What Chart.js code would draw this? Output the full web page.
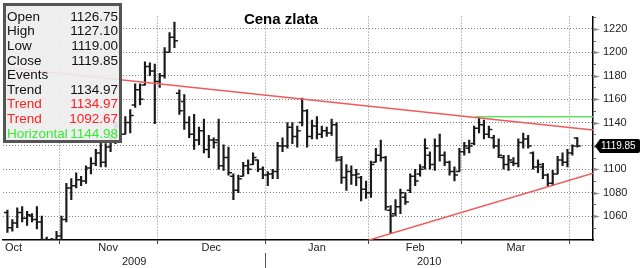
<!DOCTYPE html>
<html>
<head>
<meta charset="utf-8">
<script src="https://cdn.jsdelivr.net/npm/chart.js@4/dist/chart.umd.min.js"></script>
<style>
  html, body { margin: 0; padding: 0; background: #fff; }
  canvas { display: block; }
</style>
</head>
<body>
<canvas id="chart" width="640" height="268"></canvas>
<script>
// Daily gold prices, Oct 2009 - early Apr 2010 (one entry per trading day)
const opens = [1063,1050,1054,1063,1058,1060,1057,1055,1040,1038,1040,
  1043,1057,1084,1086,1091,1090,1101,1105,1114,1106,1119,1127,1137,1130,1140,1155,1168,1172,1188,1184,
  1175,1180,1200,1213,1165,1158,1140,1130,1125,1133,1117,1125,1125,1103,1110,1094,1082,1094,1103,1104,1108,1100,
  1095,1096,1098,1120,1120,1136,1128,1140,1150,1128,1137,1130,1133,1131,1138,1108,1093,1098,1095,1093,1083,
  1080,1106,1112,1110,1065,1062,1068,1076,1082,1094,1096,1102,1112,1104,1120,1112,1106,1098,1098,
  1115,1118,1122,1135,1138,1130,1127,1120,1110,1104,1106,1105,1123,1126,1114,1102,1102,1095,1088,1096,1108,1106,
  1114,1126.75];
const highs = [1065,1057,1067,1068,1064,1062,1068,1060,1042,1041,1047,
  1060,1088,1092,1097,1094,1103,1110,1117,1123,1122,1130,1140,1142,1145,1151,1173,1173,1192,1191,1190,
  1182,1204,1217,1226,1168,1164,1145,1147,1136,1143,1129,1127,1143,1121,1119,1096,1095,1106,1108,1114,1108,1102,
  1098,1100,1123,1127,1140,1140,1137,1161,1151,1142,1145,1137,1136,1143,1140,1111,1104,1103,1100,1094,1090,
  1107,1118,1125,1111,1069,1074,1083,1080,1096,1100,1104,1126,1115,1126,1130,1115,1107,1102,1118,
  1123,1125,1137,1144.98,1142,1137,1129,1126,1112,1112,1110,1126,1131,1129,1115,1108,1105,1096,1099,1111,1114,1117,
  1121,1127.10];
const lows = [1046,1047,1050,1055,1052,1055,1049,1035,1030,1030,1034,
  1036,1055,1074,1084,1086,1088,1096,1103,1102,1102,1115,1122,1125,1130,1131,1153,1155,1172,1180,1139,
  1170,1178,1200,1204,1147,1134,1127,1117,1121,1114,1110,1118,1100,1099,1095,1074,1080,1094,1096,1104,1098,1092,
  1086,1092,1092,1115,1118,1122,1119,1137,1119,1126,1126,1127,1128,1129,1107,1088,1082,1087,1086,1073,1075,
  1076,1106,1107,1065,1045,1060,1062,1070,1080,1086,1094,1100,1100,1099,1107,1103,1095,1090,1098,
  1112,1114,1121,1131,1126,1127,1118,1110,1100,1099,1103,1102,1118,1118,1100,1097,1092,1086,1086,1096,1103,1102,
  1112,1119.00];
const closes = [1050,1054,1063,1058,1061,1057,1055,1040,1038,1040,1043,
  1057,1084,1086,1091,1090,1101,1105,1114,1106,1119,1127,1137,1130,1140,1146,1168,1160,1188,1184,1175,
  1180,1200,1213,1210,1150,1140,1130,1125,1133,1117,1125,1123,1103,1110,1097,1082,1092,1103,1100,1110,1100,1095,
  1096,1098,1120,1120,1136,1128,1133,1150,1128,1137,1130,1133,1131,1138,1110,1093,1098,1095,1096,1083,1080,
  1104,1112,1110,1068,1060,1068,1080,1072,1094,1090,1100,1118,1104,1120,1112,1106,1098,1095,1115,
  1120,1120,1135,1138,1130,1134,1120,1112,1104,1108,1105,1123,1126,1120,1102,1104,1095,1088,1096,1108,1106,1114,
  1120,1119.85];

// Month / year axis labels (boundaries are positions between trading days)
const months = ['Oct', 'Nov', 'Dec', 'Jan', 'Feb', 'Mar'];
const monthBounds = [10.5, 30.5, 52.5, 73.5, 92.5, 114.5];
const years = ['2009', '2010'];
const yearBound = 52.5;
const priceTicks = [1060, 1080, 1100, 1120, 1140, 1160, 1180, 1200, 1220];

// Drawn studies: [day index, price]
const trendUpper = [[-0.9, 1187.2], [119.2, 1133.5]];
const trendLower = [[73.1, 1038.8], [119.2, 1096.7]];
const horizontal = [[95.3, 1144.98], [119.2, 1144.98]];

const infoRows = [
  ['Open', '1126.75', '#111'],
  ['High', '1127.10', '#111'],
  ['Low', '1119.00', '#111'],
  ['Close', '1119.85', '#111'],
  ['Events', '', '#111'],
  ['Trend', '1134.97', '#111'],
  ['Trend', '1134.97', '#ff2020'],
  ['Trend', '1092.67', '#ff2020'],
  ['Horizontal', '1144.98', '#33ee33']
];

const FONT = 'Arial, "Liberation Sans", sans-serif';
const toXY = pts => pts.map(p => ({ x: p[0], y: p[1] }));

// Open / close ticks next to each high-low bar
const ohlcTicks = {
  id: 'ohlcTicks',
  afterDatasetsDraw(chart) {
    const { ctx, chartArea: a, scales: { x, y } } = chart;
    ctx.save();
    ctx.beginPath();
    ctx.rect(a.left, a.top, a.width, a.height);
    ctx.clip();
    ctx.strokeStyle = '#1a1a1a';
    ctx.lineWidth = 1.5;
    ctx.beginPath();
    opens.forEach((o, i) => {
      const px = x.getPixelForValue(i);
      const yo = y.getPixelForValue(o);
      const yc = y.getPixelForValue(closes[i]);
      ctx.moveTo(px - 3.5, yo); ctx.lineTo(px, yo);
      ctx.moveTo(px, yc); ctx.lineTo(px + 3.5, yc);
    });
    ctx.stroke();
    ctx.restore();
  }
};

// Title, axis labels, right tick markers, info box, last price tag
const decorations = {
  id: 'decorations',
  afterDraw(chart) {
    const { ctx, chartArea: a, scales: { x, y } } = chart;
    ctx.save();

    // right axis tick markers
    ctx.fillStyle = '#8a8a8a';
    priceTicks.forEach(v => {
      const py = Math.round(y.getPixelForValue(v)) + 0.5;
      ctx.beginPath();
      ctx.moveTo(a.right, py - 1.8);
      ctx.lineTo(a.right + 7, py);
      ctx.lineTo(a.right, py + 1.8);
      ctx.fill();
    });
    ctx.strokeStyle = '#666';
    ctx.lineWidth = 1;
    for (let v = 1050; v <= 1230; v += 20) {
      const py = Math.round(y.getPixelForValue(v)) + 0.5;
      ctx.beginPath(); ctx.moveTo(a.right, py); ctx.lineTo(a.right + 3, py); ctx.stroke();
    }

    // month labels
    ctx.fillStyle = '#222';
    ctx.font = '11px ' + FONT;
    ctx.textBaseline = 'middle';
    ctx.textAlign = 'left';
    ctx.fillText(months[0], a.left + 2, 248);
    ctx.textAlign = 'center';
    for (let m = 1; m < months.length; m++) {
      const c = (monthBounds[m - 1] + monthBounds[m]) / 2;
      ctx.fillText(months[m], x.getPixelForValue(c), 248);
    }
    // year labels + separator
    ctx.fillText(years[0], x.getPixelForValue((x.min + yearBound) / 2), 261.5);
    ctx.fillText(years[1], x.getPixelForValue((yearBound + x.max) / 2), 261.5);
    const sx = Math.round(x.getPixelForValue(yearBound)) + 0.5;
    ctx.strokeStyle = '#555';
    ctx.beginPath(); ctx.moveTo(sx, 253); ctx.lineTo(sx, 268); ctx.stroke();

    // title
    ctx.font = 'bold 15px ' + FONT;
    ctx.fillStyle = '#000';
    ctx.fillText('Cena zlata', 281, 19.5);

    // info box
    ctx.fillStyle = 'rgba(238,238,238,0.92)';
    ctx.fillRect(4, 4, 117, 138);
    ctx.strokeStyle = '#555';
    ctx.lineWidth = 3;
    ctx.strokeRect(4.5, 4.5, 116, 137);
    ctx.font = '13.5px ' + FONT;
    infoRows.forEach((r, i) => {
      const ry = 17 + i * 14.6;
      ctx.fillStyle = r[2];
      ctx.textAlign = 'left';
      ctx.fillText(r[0], 7, ry);
      ctx.textAlign = 'right';
      ctx.fillText(r[1], 118, ry);
    });

    // last price tag
    const last = closes[closes.length - 1];
    const ly = y.getPixelForValue(last);
    ctx.fillStyle = '#000';
    ctx.beginPath();
    ctx.moveTo(a.right + 2, ly);
    ctx.lineTo(a.right + 7, ly - 7);
    ctx.lineTo(638, ly - 7);
    ctx.quadraticCurveTo(640, ly - 7, 640, ly - 5);
    ctx.lineTo(640, ly + 5);
    ctx.quadraticCurveTo(640, ly + 7, 638, ly + 7);
    ctx.lineTo(a.right + 7, ly + 7);
    ctx.closePath();
    ctx.fill();
    ctx.fillStyle = '#fff';
    ctx.font = '10px ' + FONT;
    ctx.textAlign = 'left';
    ctx.fillText(last.toFixed(2), a.right + 8, ly + 0.5);

    ctx.restore();
  }
};

const dayIndex = highs.map((_, i) => i);
const dotted = [1, 2];

new Chart(document.getElementById('chart'), {
  type: 'bar',
  data: {
    datasets: [
      {
        type: 'bar',
        data: dayIndex.map(i => ({ x: i, y: [lows[i], highs[i]] })),
        backgroundColor: '#1a1a1a',
        barThickness: 1.5,
        grouped: false,
        order: 2
      },
      {
        type: 'line',
        data: toXY(trendUpper),
        borderColor: '#f05a5a',
        borderWidth: 1.5,
        pointRadius: 0,
        order: 1
      },
      {
        type: 'line',
        data: toXY(trendLower),
        borderColor: '#f05a5a',
        borderWidth: 1.5,
        pointRadius: 0,
        order: 1
      },
      {
        type: 'line',
        data: toXY(horizontal),
        borderColor: '#5ee65e',
        borderWidth: 1.5,
        pointRadius: 0,
        order: 1
      }
    ]
  },
  options: {
    responsive: false,
    animation: false,
    devicePixelRatio: 1,
    layout: { padding: { left: 3, top: 5, right: 0, bottom: 0 } },
    plugins: {
      legend: { display: false },
      tooltip: { enabled: false },
      title: { display: false }
    },
    scales: {
      x: {
        type: 'linear',
        min: -0.9,
        max: 119.2,
        offset: false,
        afterBuildTicks: s => { s.ticks = monthBounds.map(v => ({ value: v })); },
        afterFit: s => { s.height = 28; },
        ticks: { display: false },
        grid: { offset: false, color: '#808080', borderDash: dotted, drawTicks: true, tickLength: 4, tickColor: '#444', tickBorderDash: [] },
        border: { display: true, color: '#000', width: 1.5, dash: dotted }
      },
      y: {
        position: 'right',
        min: 1039.5,
        max: 1230.6,
        beginAtZero: false,
        afterBuildTicks: s => { s.ticks = priceTicks.map(v => ({ value: v })); },
        afterFit: s => { s.width = 47; },
        ticks: { color: '#222', font: { size: 11, family: FONT }, padding: 10, callback: v => String(v) },
        grid: { color: '#808080', borderDash: dotted, drawTicks: false },
        border: { display: true, color: '#000', width: 1.5, dash: dotted }
      }
    }
  },
  plugins: [ohlcTicks, decorations]
});
</script>
</body>
</html>
